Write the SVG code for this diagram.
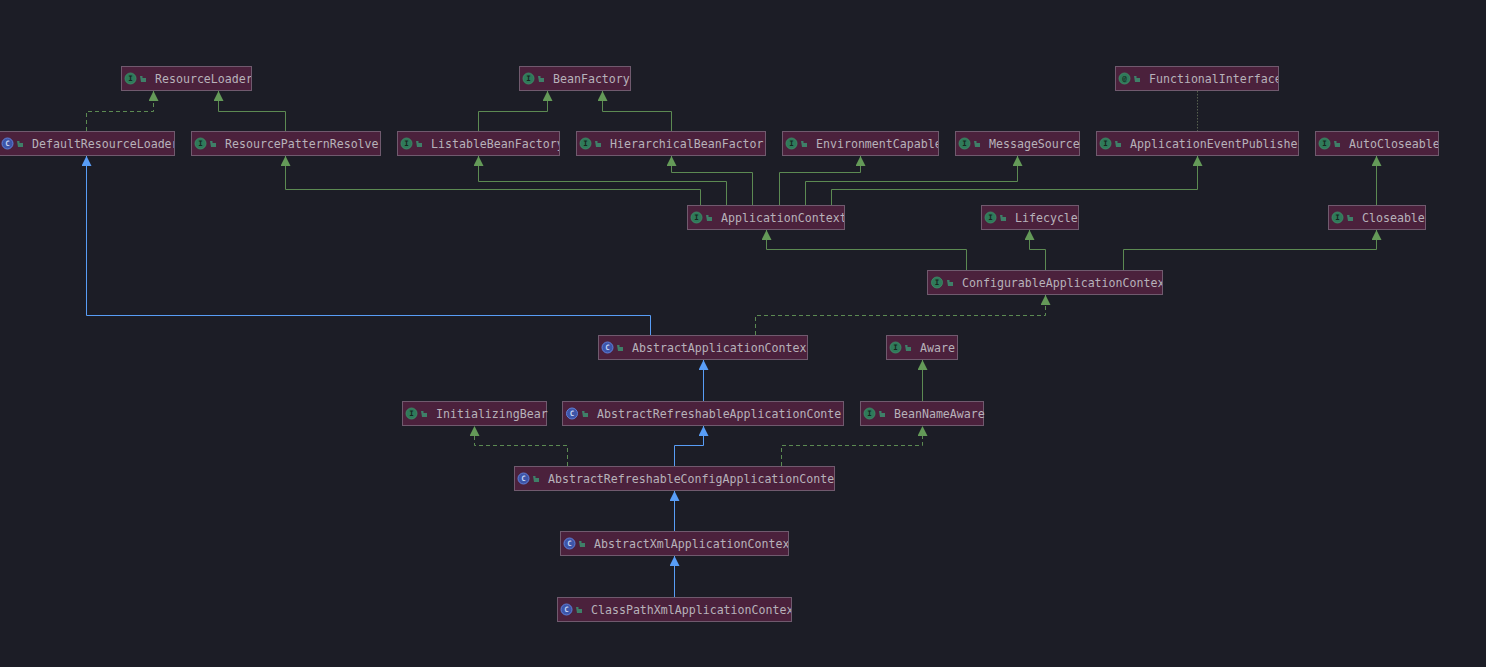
<svg xmlns="http://www.w3.org/2000/svg" width="1486" height="667" viewBox="0 0 1486 667">
<style>
.bg{fill:#1c1d26}
.n rect.b{fill:#4b213c;stroke:#705a6e;stroke-width:1}
.n text.t{font-family:"DejaVu Sans Mono","Liberation Mono",monospace;font-size:11.6px;fill:#b7b2ba}
.c{fill:none;stroke-width:1}
.g{stroke:#5c8a52}
.u{stroke:#589df6}
.d{stroke-dasharray:4 3}
.o{stroke:#56604f;stroke-dasharray:1.500 1.500}
.ci{fill:#2f7a5a;stroke:#3f8f68;stroke-width:.8}
.cc{fill:#3d55a8;stroke:#5f7fd8;stroke-width:1}
.l{font-family:"DejaVu Sans Mono",monospace;font-size:7.5px;font-weight:bold;fill:#16261f;text-anchor:middle}
.lc{fill:#c8d4f4}
.p{fill:#3f7f68}
</style>
<defs>
<marker id="ag" markerUnits="userSpaceOnUse" markerWidth="12" markerHeight="10" refX="10" refY="5" orient="auto"><path d="M0 0L10 5L0 10Z" fill="#649a58"/></marker>
<marker id="ab" markerUnits="userSpaceOnUse" markerWidth="12" markerHeight="10" refX="10" refY="5" orient="auto"><path d="M0 0L10 5L0 10Z" fill="#589df6"/></marker>
<clipPath id="c1"><rect x="121" y="66" width="130" height="25"/></clipPath>
<clipPath id="c2"><rect x="-2" y="131" width="176" height="25"/></clipPath>
<clipPath id="c3"><rect x="397" y="131" width="162" height="25"/></clipPath>
<clipPath id="c4"><rect x="782" y="131" width="156" height="25"/></clipPath>
<clipPath id="c5"><rect x="1115" y="66" width="163" height="25"/></clipPath>
<clipPath id="c6"><rect x="1315" y="131" width="123" height="25"/></clipPath>
<clipPath id="c7"><rect x="687" y="205" width="157" height="25"/></clipPath>
<clipPath id="c8"><rect x="927" y="270" width="235" height="25"/></clipPath>
<clipPath id="c9"><rect x="560" y="531" width="228" height="25"/></clipPath>
<clipPath id="c10"><rect x="557" y="597" width="234" height="25"/></clipPath>
<path id="leaf" class="p" d="M0 0h2.500v2h3.500v4h-5z"/>
</defs>
<rect class="bg" x="0" y="0" width="1486" height="667"/>
<g id="connectors">
<path class="c g d" marker-end="url(#ag)" d="M86.500 131V111.500H153.500V91"/>
<path class="c g" marker-end="url(#ag)" d="M285.500 131V111.500H218.500V91"/>
<path class="c g" marker-end="url(#ag)" d="M478.500 131V111.500H547.500V91"/>
<path class="c g" marker-end="url(#ag)" d="M671.500 131V111.500H602.500V91"/>
<path class="c o" d="M1197.500 91V131"/>
<path class="c g" marker-end="url(#ag)" d="M700.500 205V189.500H285.500V156"/>
<path class="c g" marker-end="url(#ag)" d="M726.500 205V181.500H478.500V156"/>
<path class="c g" marker-end="url(#ag)" d="M752.500 205V172.500H671.500V156"/>
<path class="c g" marker-end="url(#ag)" d="M779.500 205V172.500H860.500V156"/>
<path class="c g" marker-end="url(#ag)" d="M805.500 205V181.500H1017.500V156"/>
<path class="c g" marker-end="url(#ag)" d="M831.500 205V189.500H1197.500V156"/>
<path class="c g" marker-end="url(#ag)" d="M1376.500 205V156"/>
<path class="c g" marker-end="url(#ag)" d="M966.500 270V249.500H766.500V230"/>
<path class="c g" marker-end="url(#ag)" d="M1045.500 270V249.500H1029.500V230"/>
<path class="c g" marker-end="url(#ag)" d="M1123.500 270V249.500H1376.500V230"/>
<path class="c g d" marker-end="url(#ag)" d="M755.500 335V315.500H1045.500V295"/>
<path class="c u" marker-end="url(#ab)" d="M650.500 335V315.500H86.500V156"/>
<path class="c u" marker-end="url(#ab)" d="M703.500 401V360"/>
<path class="c g" marker-end="url(#ag)" d="M922.500 401V360"/>
<path class="c g d" marker-end="url(#ag)" d="M567.500 466V445.500H474.500V426"/>
<path class="c u" marker-end="url(#ab)" d="M674.500 466V445.500H703.500V426"/>
<path class="c g d" marker-end="url(#ag)" d="M781.500 466V445.500H922.500V426"/>
<path class="c u" marker-end="url(#ab)" d="M674.500 531V491"/>
<path class="c u" marker-end="url(#ab)" d="M674.500 597V556"/>
</g>
<g id="ResourceLoader" class="n"><rect class="b" x="121.500" y="66.500" width="130" height="24"/><circle class="ci" cx="130.500" cy="78.500" r="5.500"/><text class="l" x="130.500" y="81">I</text><use href="#leaf" x="140" y="76"/><text class="t" x="155" y="83" clip-path="url(#c1)">ResourceLoader</text></g>
<g id="BeanFactory" class="n"><rect class="b" x="519.500" y="66.500" width="111" height="24"/><circle class="ci" cx="528.500" cy="78.500" r="5.500"/><text class="l" x="528.500" y="81">I</text><use href="#leaf" x="538" y="76"/><text class="t" x="553" y="83">BeanFactory</text></g>
<g id="FunctionalInterface" class="n"><rect class="b" x="1115.500" y="66.500" width="163" height="24"/><circle class="ci" cx="1124.500" cy="78.500" r="5.500"/><text class="l" x="1124.500" y="81">@</text><use href="#leaf" x="1134" y="76"/><text class="t" x="1149" y="83" clip-path="url(#c5)">FunctionalInterface</text></g>
<g id="DefaultResourceLoader" class="n"><rect class="b" x="-1.500" y="131.500" width="176" height="24"/><circle class="cc" cx="7.500" cy="143.500" r="5.500"/><text class="l lc" x="7.500" y="146">C</text><use href="#leaf" x="17" y="141"/><text class="t" x="32" y="148" clip-path="url(#c2)">DefaultResourceLoader</text></g>
<g id="ResourcePatternResolver" class="n"><rect class="b" x="191.500" y="131.500" width="189" height="24"/><circle class="ci" cx="200.500" cy="143.500" r="5.500"/><text class="l" x="200.500" y="146">I</text><use href="#leaf" x="210" y="141"/><text class="t" x="225" y="148">ResourcePatternResolve</text></g>
<g id="ListableBeanFactory" class="n"><rect class="b" x="397.500" y="131.500" width="162" height="24"/><circle class="ci" cx="406.500" cy="143.500" r="5.500"/><text class="l" x="406.500" y="146">I</text><use href="#leaf" x="416" y="141"/><text class="t" x="431" y="148" clip-path="url(#c3)">ListableBeanFactory</text></g>
<g id="HierarchicalBeanFactory" class="n"><rect class="b" x="576.500" y="131.500" width="189" height="24"/><circle class="ci" cx="585.500" cy="143.500" r="5.500"/><text class="l" x="585.500" y="146">I</text><use href="#leaf" x="595" y="141"/><text class="t" x="610" y="148">HierarchicalBeanFactor</text></g>
<g id="EnvironmentCapable" class="n"><rect class="b" x="782.500" y="131.500" width="156" height="24"/><circle class="ci" cx="791.500" cy="143.500" r="5.500"/><text class="l" x="791.500" y="146">I</text><use href="#leaf" x="801" y="141"/><text class="t" x="816" y="148" clip-path="url(#c4)">EnvironmentCapable</text></g>
<g id="MessageSource" class="n"><rect class="b" x="955.500" y="131.500" width="124" height="24"/><circle class="ci" cx="964.500" cy="143.500" r="5.500"/><text class="l" x="964.500" y="146">I</text><use href="#leaf" x="974" y="141"/><text class="t" x="989" y="148">MessageSource</text></g>
<g id="ApplicationEventPublisher" class="n"><rect class="b" x="1096.500" y="131.500" width="202" height="24"/><circle class="ci" cx="1105.500" cy="143.500" r="5.500"/><text class="l" x="1105.500" y="146">I</text><use href="#leaf" x="1115" y="141"/><text class="t" x="1130" y="148">ApplicationEventPublishe</text></g>
<g id="AutoCloseable" class="n"><rect class="b" x="1315.500" y="131.500" width="123" height="24"/><circle class="ci" cx="1324.500" cy="143.500" r="5.500"/><text class="l" x="1324.500" y="146">I</text><use href="#leaf" x="1334" y="141"/><text class="t" x="1349" y="148" clip-path="url(#c6)">AutoCloseable</text></g>
<g id="ApplicationContext" class="n"><rect class="b" x="687.500" y="205.500" width="157" height="24"/><circle class="ci" cx="696.500" cy="217.500" r="5.500"/><text class="l" x="696.500" y="220">I</text><use href="#leaf" x="706" y="215"/><text class="t" x="721" y="222" clip-path="url(#c7)">ApplicationContext</text></g>
<g id="Lifecycle" class="n"><rect class="b" x="981.500" y="205.500" width="97" height="24"/><circle class="ci" cx="990.500" cy="217.500" r="5.500"/><text class="l" x="990.500" y="220">I</text><use href="#leaf" x="1000" y="215"/><text class="t" x="1015" y="222">Lifecycle</text></g>
<g id="Closeable" class="n"><rect class="b" x="1328.500" y="205.500" width="97" height="24"/><circle class="ci" cx="1337.500" cy="217.500" r="5.500"/><text class="l" x="1337.500" y="220">I</text><use href="#leaf" x="1347" y="215"/><text class="t" x="1362" y="222">Closeable</text></g>
<g id="ConfigurableApplicationContext" class="n"><rect class="b" x="927.500" y="270.500" width="235" height="24"/><circle class="ci" cx="937" cy="282.500" r="5.500"/><text class="l" x="937" y="285">I</text><use href="#leaf" x="947" y="280"/><text class="t" x="962" y="287" clip-path="url(#c8)">ConfigurableApplicationContext</text></g>
<g id="AbstractApplicationContext" class="n"><rect class="b" x="598.500" y="335.500" width="209" height="24"/><circle class="cc" cx="607.500" cy="347.500" r="5.500"/><text class="l lc" x="607.500" y="350">C</text><use href="#leaf" x="617" y="345"/><text class="t" x="632" y="352">AbstractApplicationContex</text></g>
<g id="Aware" class="n"><rect class="b" x="886.500" y="335.500" width="71" height="24"/><circle class="ci" cx="895.500" cy="347.500" r="5.500"/><text class="l" x="895.500" y="350">I</text><use href="#leaf" x="905" y="345"/><text class="t" x="920" y="352">Aware</text></g>
<g id="InitializingBean" class="n"><rect class="b" x="402.500" y="401.500" width="144" height="24"/><circle class="ci" cx="411.500" cy="413.500" r="5.500"/><text class="l" x="411.500" y="416">I</text><use href="#leaf" x="421" y="411"/><text class="t" x="436" y="418">InitializingBear</text></g>
<g id="AbstractRefreshableApplicationContext" class="n"><rect class="b" x="562.500" y="401.500" width="281" height="24"/><circle class="cc" cx="572" cy="413.500" r="5.500"/><text class="l lc" x="572" y="416">C</text><use href="#leaf" x="582" y="411"/><text class="t" x="597" y="418">AbstractRefreshableApplicationConte</text></g>
<g id="BeanNameAware" class="n"><rect class="b" x="860.500" y="401.500" width="123" height="24"/><circle class="ci" cx="869.500" cy="413.500" r="5.500"/><text class="l" x="869.500" y="416">I</text><use href="#leaf" x="879" y="411"/><text class="t" x="894" y="418">BeanNameAware</text></g>
<g id="AbstractRefreshableConfigApplicationContext" class="n"><rect class="b" x="514.500" y="466.500" width="320" height="24"/><circle class="cc" cx="523.500" cy="478.500" r="5.500"/><text class="l lc" x="523.500" y="481">C</text><use href="#leaf" x="533" y="476"/><text class="t" x="548" y="483">AbstractRefreshableConfigApplicationConte</text></g>
<g id="AbstractXmlApplicationContext" class="n"><rect class="b" x="560.500" y="531.500" width="228" height="24"/><circle class="cc" cx="569.500" cy="543.500" r="5.500"/><text class="l lc" x="569.500" y="546">C</text><use href="#leaf" x="579" y="541"/><text class="t" x="594" y="548" clip-path="url(#c9)">AbstractXmlApplicationContext</text></g>
<g id="ClassPathXmlApplicationContext" class="n"><rect class="b" x="557.500" y="597.500" width="234" height="24"/><circle class="cc" cx="566.500" cy="609.500" r="5.500"/><text class="l lc" x="566.500" y="612">C</text><use href="#leaf" x="576" y="607"/><text class="t" x="591" y="614" clip-path="url(#c10)">ClassPathXmlApplicationContext</text></g>
</svg>
